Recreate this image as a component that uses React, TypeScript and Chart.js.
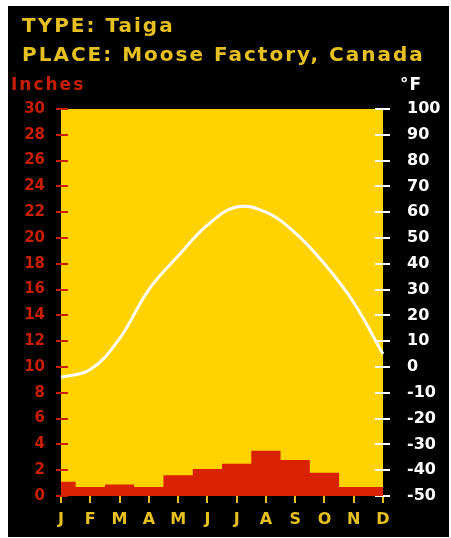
import React, { useEffect, useRef } from "react";
import { Chart, registerables } from "chart.js";

Chart.register(...registerables);

const months = ["J", "F", "M", "A", "M", "J", "J", "A", "S", "O", "N", "D"];
const precipitationInches = [1.1, 0.7, 0.9, 0.7, 1.6, 2.1, 2.5, 3.5, 2.8, 1.8, 0.7, 0.7];
const temperatureF = [-4, -1, 11, 30, 43, 55, 62, 60, 52, 40, 25, 5];
const inchRange = [0, 30];
const inchStep = 2;
const fahrenheitRange = [-50, 100];
const fahrenheitStep = 10;

const titleType = "TYPE: Taiga";
const titlePlace = "PLACE: Moose Factory, Canada";
const leftAxisTitle = "Inches";
const rightAxisTitle = "°F";

const YELLOW_BG = "#FFD200";
const RED_FILL = "#D82200";
const RED_TEXT = "#C81E00";
const TITLE_YELLOW = "#E6C020";
const WHITE = "#FFFFFF";
const FONT = "'DejaVu Sans', sans-serif";

const W = 441;
const H = 531;

const areaBg = {
  id: "areaBg",
  beforeDraw(chart: any) {
    const { ctx, chartArea } = chart;
    ctx.save();
    ctx.fillStyle = YELLOW_BG;
    ctx.fillRect(chartArea.left, chartArea.top, chartArea.right - chartArea.left, chartArea.bottom - chartArea.top);
    ctx.restore();
  },
};

const innerTicks = {
  id: "innerTicks",
  beforeDatasetsDraw(chart: any) {
    const { ctx, chartArea, scales } = chart;
    ctx.save();
    ctx.lineWidth = 2;
    ctx.strokeStyle = RED_TEXT;
    scales.y.ticks.forEach((_t: any, i: number) => {
      const y = Math.round(scales.y.getPixelForTick(i));
      ctx.beginPath();
      ctx.moveTo(chartArea.left, y);
      ctx.lineTo(chartArea.left + 7, y);
      ctx.stroke();
    });
    ctx.strokeStyle = WHITE;
    scales.y1.ticks.forEach((_t: any, i: number) => {
      const y = Math.round(scales.y1.getPixelForTick(i));
      ctx.beginPath();
      ctx.moveTo(chartArea.right - 8, y);
      ctx.lineTo(chartArea.right, y);
      ctx.stroke();
    });
    ctx.restore();
  },
};

export default function App() {
  const ref = useRef<HTMLCanvasElement | null>(null);

  useEffect(() => {
    if (!ref.current) return;
    const chart = new Chart(ref.current, {
      type: "line",
      data: {
        labels: months,
        datasets: [
          {
            label: "Temperature (°F)",
            data: temperatureF,
            yAxisID: "y1",
            borderColor: WHITE,
            borderWidth: 3,
            pointRadius: 0,
            tension: 0.4,
            fill: false,
            order: 0,
          },
          {
            label: "Precipitation (in)",
            data: precipitationInches,
            yAxisID: "y",
            stepped: "middle",
            borderWidth: 0,
            borderColor: RED_FILL,
            backgroundColor: RED_FILL,
            pointRadius: 0,
            fill: "origin",
            order: 1,
          },
        ],
      },
      options: {
        responsive: false,
        animation: false,
        devicePixelRatio: 1,
        layout: { padding: { top: 103, left: 0, right: 0, bottom: 0 } },
        plugins: {
          legend: { display: false },
          tooltip: { enabled: false },
          title: { display: false },
        },
        scales: {
          x: {
            type: "category",
            offset: false,
            border: { display: false },
            grid: {
              drawOnChartArea: false,
              drawTicks: true,
              tickLength: 7,
              color: TITLE_YELLOW,
              lineWidth: 2,
            },
            ticks: {
              color: TITLE_YELLOW,
              font: { family: FONT, size: 16, weight: "bold" },
              padding: 7,
              autoSkip: false,
              maxRotation: 0,
            },
            afterFit(scale: any) {
              scale.height = 41;
            },
          },
          y: {
            position: "left",
            min: inchRange[0],
            max: inchRange[1],
            border: { display: false },
            grid: {
              drawOnChartArea: false,
              drawTicks: true,
              tickLength: 5,
              color: RED_TEXT,
              lineWidth: 2,
            },
            ticks: {
              stepSize: inchStep,
              color: RED_TEXT,
              font: { family: FONT, size: 15, weight: "bold" },
              padding: 11,
            },
            afterFit(scale: any) {
              scale.width = 53;
            },
          },
          y1: {
            position: "right",
            min: fahrenheitRange[0],
            max: fahrenheitRange[1],
            border: { display: false },
            grid: {
              drawOnChartArea: false,
              drawTicks: true,
              tickLength: 7,
              color: WHITE,
              lineWidth: 2,
            },
            ticks: {
              stepSize: fahrenheitStep,
              color: WHITE,
              font: { family: FONT, size: 16, weight: "bold" },
              padding: 17,
            },
            afterFit(scale: any) {
              scale.width = 66;
            },
          },
        },
      },
      plugins: [areaBg, innerTicks],
    } as any);
    return () => chart.destroy();
  }, []);

  return (
    <div
      style={{
        position: "absolute",
        left: 8,
        top: 6,
        width: W,
        height: H,
        background: "#000",
        overflow: "hidden",
      }}
    >
      <canvas ref={ref} width={W} height={H} style={{ position: "absolute", left: 0, top: 0, width: W, height: H }} />
      <div
        style={{
          position: "absolute",
          left: 14,
          top: 5,
          color: TITLE_YELLOW,
          fontFamily: FONT,
          fontWeight: "bold",
          fontSize: 20,
          letterSpacing: 2,
          lineHeight: "29px",
          whiteSpace: "nowrap",
        }}
      >
        <div>{titleType}</div>
        <div>{titlePlace}</div>
      </div>
      <div
        style={{
          position: "absolute",
          left: 3,
          top: 68,
          color: RED_TEXT,
          fontFamily: FONT,
          fontWeight: "bold",
          fontSize: 17,
          letterSpacing: 2,
          lineHeight: "20px",
          whiteSpace: "nowrap",
        }}
      >
        {leftAxisTitle}
      </div>
      <div
        style={{
          position: "absolute",
          left: 392,
          top: 68,
          color: WHITE,
          fontFamily: FONT,
          fontWeight: "bold",
          fontSize: 17,
          letterSpacing: 1,
          lineHeight: "20px",
          whiteSpace: "nowrap",
        }}
      >
        {rightAxisTitle}
      </div>
    </div>
  );
}
